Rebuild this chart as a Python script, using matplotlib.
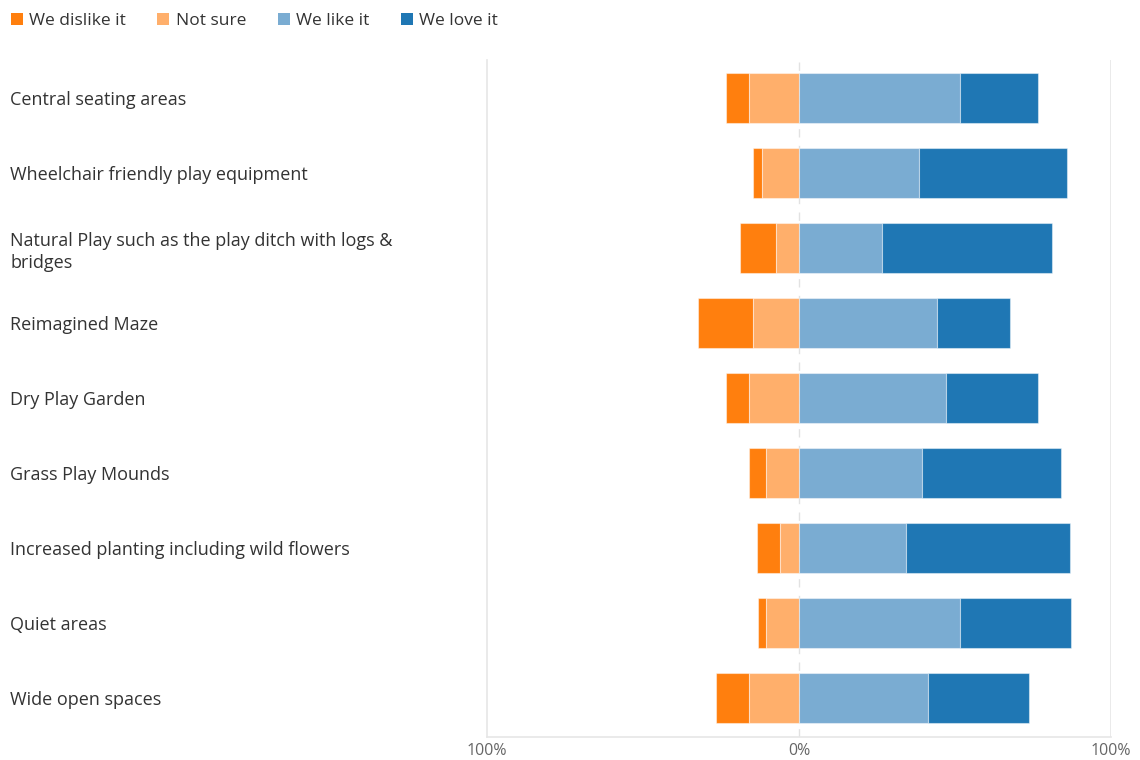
import numpy as np
import matplotlib.pyplot as plt
from matplotlib.patches import Patch

plt.rcParams['font.family'] = ['Open Sans', 'DejaVu Sans']

categories = [
    'Central seating areas',
    'Wheelchair friendly play equipment',
    'Natural Play such as the play ditch with logs &\nbridges',
    'Reimagined Maze',
    'Dry Play Garden',
    'Grass Play Mounds',
    'Increased planting including wild flowers',
    'Quiet areas',
    'Wide open spaces',
]
series = ['We dislike it', 'Not sure', 'We like it', 'We love it']
dislike = [7.5, 2.7, 11.5, 17.8, 7.5, 5.3, 7.3, 2.3, 10.6]
not_sure = [16.0, 12.0, 7.5, 14.6, 16.0, 10.7, 6.2, 10.7, 16.0]
like = [51.6, 38.5, 26.7, 44.1, 47.2, 39.5, 34.3, 51.6, 41.3]
love = [25.1, 47.3, 54.5, 23.5, 29.5, 44.6, 52.5, 35.6, 32.4]
colors = ['#ff7f0e', '#ffaf6b', '#7aacd2', '#1f77b4']

dislike = np.array(dislike)
not_sure = np.array(not_sure)
like = np.array(like)
love = np.array(love)
y = np.arange(len(categories))

fig = plt.figure(figsize=(11.4, 7.6), dpi=100)
ax = fig.add_axes([487 / 1140, 1 - 737 / 760, (1111 - 487) / 1140, (737 - 60) / 760])

edge = (1, 1, 1, 0.45)
h = 0.66
ax.barh(y, dislike, left=-(not_sure + dislike), height=h, color=colors[0], edgecolor=edge, linewidth=0.8)
ax.barh(y, not_sure, left=-not_sure, height=h, color=colors[1], edgecolor=edge, linewidth=0.8)
ax.barh(y, like, left=0, height=h, color=colors[2], edgecolor=edge, linewidth=0.8)
ax.barh(y, love, left=like, height=h, color=colors[3], edgecolor=edge, linewidth=0.8)

ax.axvline(0, color='#e2e2e2', linestyle=(0, (6, 6)), linewidth=1, zorder=0)
ax.axvline(100, color='#e6e6e6', linewidth=1.2, zorder=0)

ax.set_xlim(-100, 100)
ax.set_ylim(8.52, -0.507)
ax.set_xticks([-100, 0, 100])
ax.set_xticklabels(['100%', '0%', '100%'], color='#666666', fontsize=11.5)
ax.set_yticks(y)
ax.set_yticklabels(categories, ha='left', color='#333333', fontsize=13, linespacing=1.3)
ax.tick_params(axis='y', length=0, pad=(487 - 10) * 0.72)
ax.tick_params(axis='x', length=0, pad=4)

for s in ['top', 'right']:
    ax.spines[s].set_visible(False)
for s in ['left', 'bottom']:
    ax.spines[s].set_color('#e6e6e6')
    ax.spines[s].set_linewidth(1.2)

handles = [Patch(facecolor=c, edgecolor='none') for c in colors]
fig.legend(handles, series, loc='upper left', bbox_to_anchor=(-5 / 1140, 1.004), ncol=4,
           frameon=False, fontsize=12.5, handlelength=0.7, handleheight=0.7,
           handletextpad=0.35, columnspacing=1.82, labelcolor='#333333')

fig.savefig('out.png', dpi=100)
